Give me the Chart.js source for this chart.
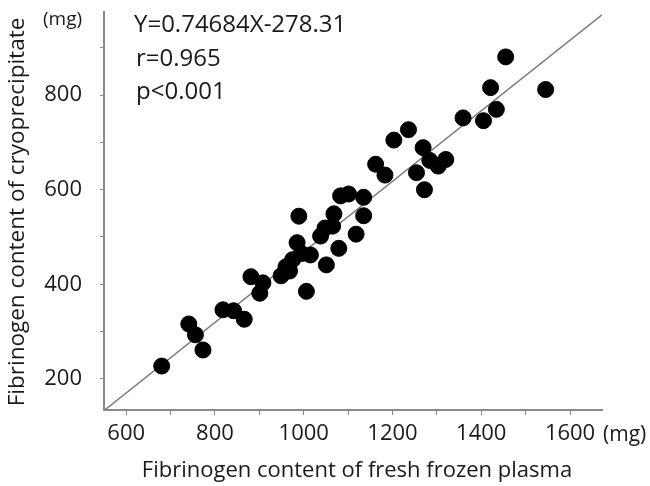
<!DOCTYPE html>
<html>
<head>
<meta charset="utf-8">
<script src="https://cdn.jsdelivr.net/npm/chart.js@4/dist/chart.umd.min.js"></script>
<style>
  html, body { margin: 0; padding: 0; background: #fff; }
  #wrap { width: 650px; height: 486px; position: relative; }
</style>
</head>
<body>
<div id="wrap"><canvas id="c" width="650" height="486"></canvas></div>
<script>
// Fibrinogen content of fresh frozen plasma (mg)
const ffpValues = [680, 741, 756, 773, 818, 842, 866, 881, 901, 908,
  949, 960, 968, 975, 985, 989, 995, 1015, 1006, 1051,
  1038, 1048, 1065, 1068, 1079, 1083, 1101, 1118, 1135, 1135,
  1162, 1183, 1203, 1236, 1254, 1269, 1272, 1284, 1303, 1320,
  1359, 1405, 1421, 1434, 1455, 1545];
// Fibrinogen content of cryoprecipitate (mg)
const cryoValues = [227, 316, 293, 261, 346, 344, 326, 416, 381, 403,
  418, 437, 428, 452, 488, 544, 465, 462, 385, 441,
  502, 519, 523, 549, 476, 587, 591, 506, 584, 545,
  654, 631, 705, 727, 636, 689, 600, 662, 650, 664,
  752, 746, 816, 770, 881, 812];
// Regression line end points (Y=0.74684X-278.31)
const fitX = [553, 1672];
const fitY = [135, 970];
const xTickValues = [600, 700, 800, 900, 1000, 1100, 1200, 1300, 1400, 1500, 1600];
const xLabelValues = [600, 800, 1000, 1200, 1400, 1600];
const yTickValues = [200, 300, 400, 500, 600, 700, 800, 900];
const yLabelValues = [200, 400, 600, 800];
const annotationLines = ["Y=0.74684X-278.31", "r=0.965", "p<0.001"];
const xTitle = "Fibrinogen content of fresh frozen plasma";
const yTitle = "Fibrinogen content of cryoprecipitate";
const unitLabel = "(mg)";

const FONT = "'Open Sans', 'Noto Sans', sans-serif";
const TXT = '#1a1a1a';

const scatterPts = ffpValues.map((x, i) => ({ x: x, y: cryoValues[i] }));
const linePts = fitX.map((x, i) => ({ x: x, y: fitY[i] }));

const textPlugin = {
  id: 'texts',
  afterDraw(chart) {
    const ctx = chart.ctx;
    const xs = chart.scales.x, ys = chart.scales.y;
    ctx.save();
    ctx.fillStyle = TXT;
    // annotation
    ctx.font = "24px " + FONT;
    ctx.textAlign = 'left';
    ctx.textBaseline = 'middle';
    const ay = [25, 59, 92];
    annotationLines.forEach((t, i) => {
      ctx.fillText(t, i === 0 ? 134 : 136, ay[i]);
    });
    // units
    ctx.font = "19px " + FONT;
    ctx.textAlign = 'left';
    ctx.fillText(unitLabel, 43, 20);
    ctx.font = "21px " + FONT;
    ctx.fillText(unitLabel, xs.getPixelForValue(1600) + 33, 435);
    // x title
    ctx.font = "22px " + FONT;
    ctx.textAlign = 'center';
    ctx.fillText(xTitle, (xs.left + xs.right) / 2 + 4, 471);
    // y title
    ctx.font = "22.5px " + FONT;
    ctx.translate(18, 212);
    ctx.rotate(-Math.PI / 2);
    ctx.fillText(yTitle, 0, 0);
    ctx.restore();
  }
};

new Chart(document.getElementById('c'), {
  data: {
    datasets: [
      {
        type: 'scatter',
        data: scatterPts,
        backgroundColor: '#000',
        borderColor: '#000',
        pointRadius: 8,
        pointHoverRadius: 8,
        order: 1
      },
      {
        type: 'line',
        data: linePts,
        borderColor: '#7a7a7a',
        borderWidth: 1.5,
        pointRadius: 0,
        fill: false,
        order: 2
      }
    ]
  },
  options: {
    responsive: false,
    animation: false,
    layout: { autoPadding: false, padding: { top: 12, right: 48, left: 0, bottom: 0 } },
    plugins: { legend: { display: false }, tooltip: { enabled: false } },
    scales: {
      x: {
        type: 'linear',
        min: 550, max: 1672,
        afterBuildTicks: (s) => { s.ticks = xTickValues.map(v => ({ value: v })); },
        afterFit: (s) => { s.height = 76; s.paddingLeft = 0; s.paddingRight = 0; },
        ticks: {
          autoSkip: false,
          maxRotation: 0,
          padding: 6,
          color: TXT,
          font: { family: FONT, size: 22 },
          callback: (v) => xLabelValues.includes(v) ? String(v) : ''
        },
        grid: { drawOnChartArea: false, drawTicks: true, tickLength: 5, color: '#888', lineWidth: 1 },
        border: { display: true, color: '#8a8a8a', width: 2 }
      },
      y: {
        type: 'linear',
        min: 134, max: 976,
        afterBuildTicks: (s) => { s.ticks = yTickValues.map(v => ({ value: v })); },
        afterFit: (s) => { s.width = 104; s.paddingTop = 0; s.paddingBottom = 0; },
        ticks: {
          autoSkip: false,
          padding: 18,
          color: TXT,
          font: { family: FONT, size: 22 },
          callback: (v) => yLabelValues.includes(v) ? String(v) : ''
        },
        grid: { drawOnChartArea: false, drawTicks: true, tickLength: 4, color: '#888', lineWidth: 1 },
        border: { display: true, color: '#8a8a8a', width: 2 }
      }
    }
  },
  plugins: [textPlugin]
});
</script>
</body>
</html>
